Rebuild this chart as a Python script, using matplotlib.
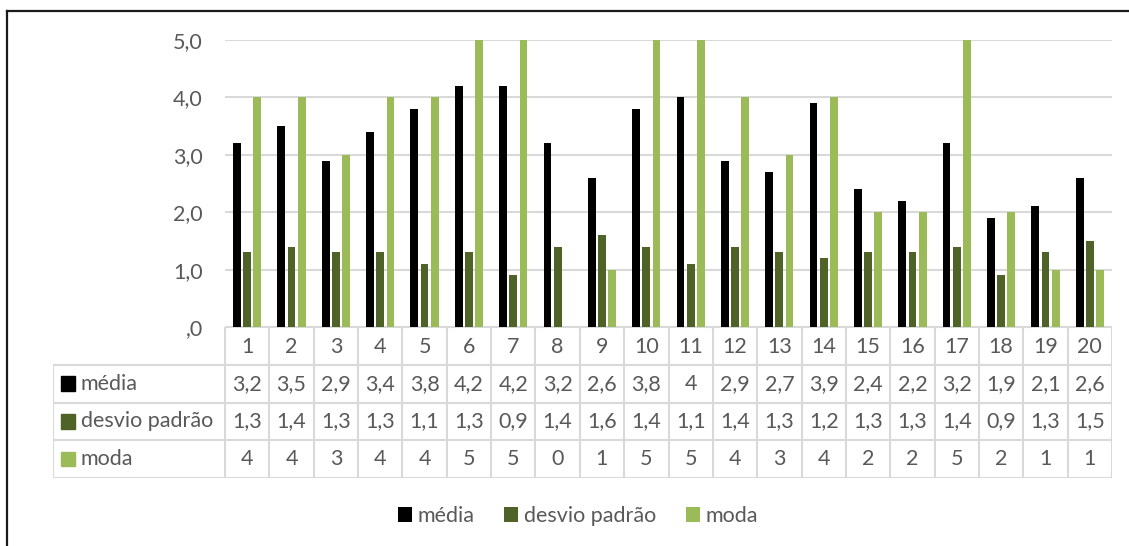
import matplotlib

matplotlib.use("Agg")
import matplotlib.pyplot as plt
from matplotlib.lines import Line2D
from matplotlib.patches import Patch, Rectangle
import numpy as np

plt.rcParams["font.family"] = ["Lato", "DejaVu Sans"]

itens = list(range(1, 21))
media = [3.2, 3.5, 2.9, 3.4, 3.8, 4.2, 4.2, 3.2, 2.6, 3.8, 4.0, 2.9, 2.7, 3.9, 2.4, 2.2, 3.2, 1.9, 2.1, 2.6]
desvio = [1.3, 1.4, 1.3, 1.3, 1.1, 1.3, 0.9, 1.4, 1.6, 1.4, 1.1, 1.4, 1.3, 1.2, 1.3, 1.3, 1.4, 0.9, 1.3, 1.5]
moda = [4, 4, 3, 4, 4, 5, 5, 0, 1, 5, 5, 4, 3, 4, 2, 2, 5, 2, 1, 1]
series_names = ["média", "desvio padrão", "moda"]
colors = ["#000000", "#4f6228", "#9bbb59"]

TEXT = "#595959"
GRID = "#d9d9d9"
FS = 15.5


def fmt(v):
    return f"{v:g}".replace(".", ",")


fig = plt.figure(figsize=(11.29, 5.46), dpi=100)

# bar area
ax = fig.add_axes([225 / 1129, 1 - 327 / 546, 887 / 1129, 287 / 546])
x = np.arange(len(itens))
w = 0.175
step = 0.23
for k, (vals, c) in enumerate(zip([media, desvio, moda], colors)):
    ax.bar(x + (k - 1) * step, vals, width=w, color=c, zorder=3)

ax.set_xlim(-0.5, len(itens) - 0.5)
ax.set_ylim(0, 5)
ax.set_yticks(np.arange(0, 6))
ax.set_yticklabels([",0"] + [f"{v},0" for v in range(1, 6)])
ax.tick_params(axis="y", length=0, pad=16, labelsize=FS, labelcolor=TEXT)
ax.set_xticks([])
ax.yaxis.grid(True, color=GRID, linewidth=1.5, zorder=0)
for s in ax.spines.values():
    s.set_visible(False)

# data table underneath, columns aligned with the categories
label_w = 172 / (887 / 20)
tab = fig.add_axes([53 / 1129, 1 - 478 / 546, 1059 / 1129, 151 / 546])
left = -0.5 - label_w
right = len(itens) - 0.5
tab.set_xlim(left, right)
tab.set_ylim(4, 0)
tab.axis("off")

lkw = dict(color=GRID, linewidth=1.5, solid_capstyle="butt")
tab.plot([-0.5, right], [0, 0], **lkw)
for r in range(1, 5):
    tab.plot([left, right], [r, r], **lkw)
tab.plot([left, left], [1, 4], **lkw)
for k in range(len(itens) + 1):
    tab.plot([k - 0.5, k - 0.5], [0, 4], **lkw)

for i, it in enumerate(itens):
    tab.text(i, 0.52, str(it), ha="center", va="center", fontsize=FS, color=TEXT)

for r, (name, vals, c) in enumerate(zip(series_names, [media, desvio, moda], colors), start=1):
    tab.add_patch(Rectangle((left + 0.18, r + 0.31), 0.32, 0.38, color=c))
    tab.text(left + 0.63, r + 0.5, name, ha="left", va="center", fontsize=FS, color=TEXT)
    for i, v in enumerate(vals):
        tab.text(i, r + 0.5, fmt(v), ha="center", va="center", fontsize=FS, color=TEXT)

# legend
handles = [Patch(facecolor=c, edgecolor="none") for c in colors]
fig.legend(handles, series_names, loc="center", bbox_to_anchor=(578 / 1129, 1 - 516 / 546),
           ncol=3, frameon=False, fontsize=FS, labelcolor=TEXT,
           handlelength=0.65, handleheight=0.65, handletextpad=0.25, columnspacing=1.4)

# chart border (top and left edges)
fig.add_artist(Line2D([7 / 1129, 7 / 1129], [0, 1 - 11 / 546], color="#1a1a1a", linewidth=1.6))
fig.add_artist(Line2D([7 / 1129, 1], [1 - 11 / 546, 1 - 11 / 546], color="#1a1a1a", linewidth=1.6))

fig.savefig("out.png", dpi=100)
plt.close(fig)
